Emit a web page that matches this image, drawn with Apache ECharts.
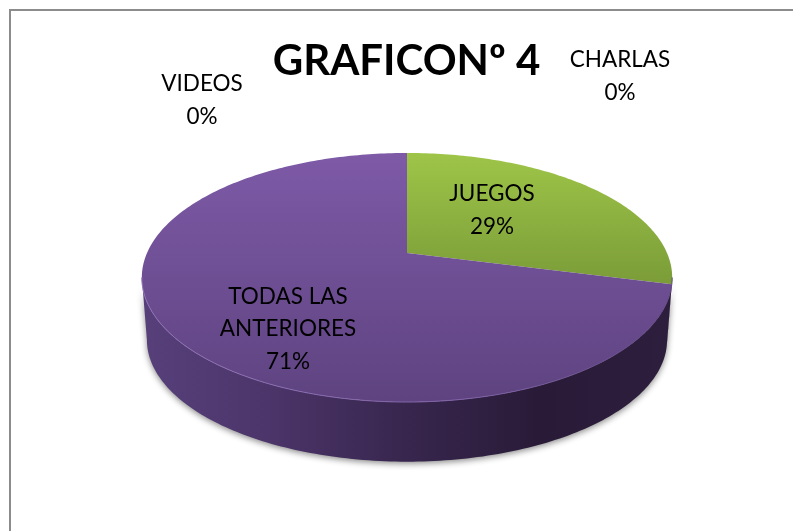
<!DOCTYPE html>
<html>
<head>
<meta charset="utf-8">
<style>
html, body { margin: 0; padding: 0; background: #fff; }
#chart { width: 793px; height: 531px; }
</style>
<script src="https://cdn.jsdelivr.net/npm/echarts@6/dist/echarts.min.js"></script>
</head>
<body>
<div id="chart"></div>
<script>
const categories = ['JUEGOS', 'CHARLAS', 'VIDEOS', 'TODAS LAS\nANTERIORES'];
const values = [29, 0, 0, 71];
const percents = ['29%', '0%', '0%', '71%'];

// where each label sits, same order as categories
const labelAt = [[492, 210], [620, 76], [202, 100], [288, 329]];

// perspective disc, worked out from the apex and the edges of the picture
const top3d = { x0: 407, y0: 253, sx: 260, sy: 119.7, k: 0.1968 };
const bottom3d = { x0: 407, y0: 316, sx: 255, sy: 117, k: 0.1968 };

const total = values.reduce((a, b) => a + b, 0);

function project(d, deg) {
    const a = deg * Math.PI / 180;
    const u = Math.sin(a), v = -Math.cos(a);
    const w = 1 - d.k * v;
    return [d.x0 + d.sx * u / w, d.y0 + d.sy * v / w];
}

function arc(d, from, to) {
    const pts = [];
    const n = Math.max(2, Math.ceil(Math.abs(to - from)));
    for (let i = 0; i <= n; i++) {
        pts.push(project(d, from + (to - from) * i / n));
    }
    return pts;
}

function vgrad(y, y2, c1, c2) {
    return { type: 'linear', x: 0, y: y, x2: 0, y2: y2, global: true,
        colorStops: [{ offset: 0, color: c1 }, { offset: 1, color: c2 }] };
}

const faceColor = [
    vgrad(153, 402, '#9ec548', '#5b772a'),
    null,
    null,
    vgrad(153, 402, '#7e5aa7', '#5e4380')
];

const sideColor = {
    type: 'linear', x: 147, y: 0, x2: 665, y2: 0, global: true,
    colorStops: [
        { offset: 0, color: '#57407a' },
        { offset: 0.25, color: '#4a3468' },
        { offset: 0.5, color: '#38264e' },
        { offset: 0.75, color: '#291b38' },
        { offset: 1, color: '#2c1e3c' }
    ]
};

const rimColor = {
    type: 'linear', x: 141, y: 0, x2: 672, y2: 0, global: true,
    colorStops: [
        { offset: 0, color: '#8f72b5' },
        { offset: 0.6, color: '#7f62a6' },
        { offset: 1, color: '#5e4380' }
    ]
};

// the wall is seen between the two angles where the disc is widest
const wallFrom = 101.35, wallTo = 258.65;

function renderSlice(params, api) {
    const i = params.dataIndex;
    const val = api.value(0);
    let start = 0;
    for (let j = 0; j < i; j++) start += values[j];
    const from = start / total * 360, to = (start + val) / total * 360;
    const children = [];

    if (val > 0) {
        const a = Math.max(from, wallFrom), b = Math.min(to, wallTo);
        if (b > a) {
            children.push({
                type: 'polygon',
                shape: { points: arc(top3d, a, b).concat(arc(bottom3d, b, a)) },
                style: { fill: sideColor, shadowBlur: 6, shadowColor: 'rgba(0,0,0,0.45)', shadowOffsetY: 2 }
            });
        }
        children.push({
            type: 'polygon',
            shape: { points: [[top3d.x0, top3d.y0]].concat(arc(top3d, from, to)) },
            style: { fill: faceColor[i] }
        });
        // light rim on the front edge
        if (b > a) {
            children.push({
                type: 'polyline',
                shape: { points: arc(top3d, a, b) },
                style: { fill: null, stroke: rimColor, lineWidth: 1 }
            });
        }
    }
    children.push({
        type: 'text',
        z2: 10,
        style: {
            text: categories[i] + '\n' + percents[i],
            x: labelAt[i][0], y: labelAt[i][1],
            align: 'center', verticalAlign: 'middle',
            font: '22.5px Lato', lineHeight: 32.5, fill: '#000'
        }
    });
    return { type: 'group', children: children };
}

const chart = echarts.init(document.getElementById('chart'));
chart.setOption({
    animation: false,
    title: {
        text: 'GRAFICONº 4',
        left: 401.5, top: 35, textAlign: 'center',
        textStyle: { fontFamily: 'Lato', fontWeight: 'bold', fontSize: 42, color: '#000' }
    },
    graphic: [{
        type: 'polyline', silent: true,
        shape: { points: [[10, 531], [10, 10], [793, 10]] },
        style: { fill: null, stroke: '#8c8c8c', lineWidth: 2 }
    }],
    series: [{
        type: 'custom',
        coordinateSystem: 'none',
        renderItem: renderSlice,
        data: values.map((v) => [v])
    }]
});
</script>
</body>
</html>
